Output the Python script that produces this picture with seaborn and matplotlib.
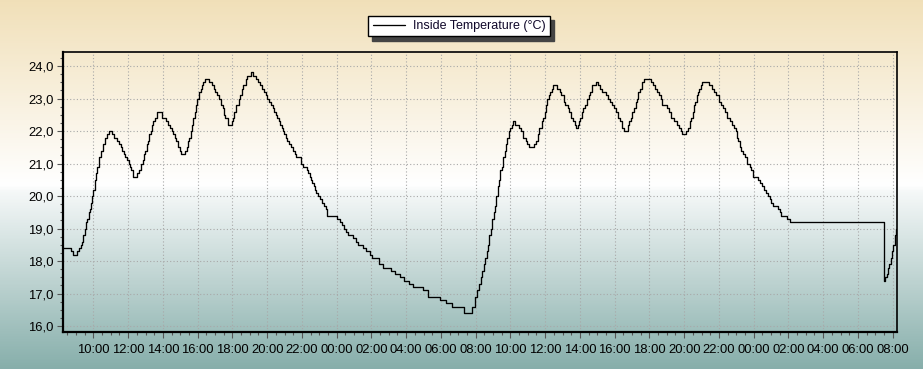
import numpy as np
import pandas as pd
import matplotlib
matplotlib.use("Agg")
import matplotlib.pyplot as plt
from matplotlib.colors import LinearSegmentedColormap
from matplotlib.ticker import FixedLocator, MultipleLocator, FuncFormatter
import seaborn as sns

# hours since midnight of day 1 at which the reading changes
hours = [8.25, 8.70, 8.85, 9.08, 9.19, 9.27, 9.35, 9.42, 9.50, 9.58, 9.65, 9.73, 9.81, 9.88, 9.94,
         10.00, 10.08, 10.15, 10.23, 10.35, 10.46, 10.58, 10.69, 10.81, 10.92, 11.07, 11.20, 11.38,
         11.50, 11.57, 11.65, 11.76, 11.84, 11.92, 12.03, 12.11, 12.19, 12.26, 12.53, 12.65, 12.76,
         12.84, 12.92, 12.99, 13.07, 13.15, 13.22, 13.30, 13.38, 13.45, 13.53, 13.64, 13.95, 14.18,
         14.30, 14.41, 14.53, 14.60, 14.68, 14.76, 14.87, 14.99, 15.06, 15.29, 15.37, 15.45, 15.52,
         15.60, 15.68, 15.75, 15.83, 15.91, 15.99, 16.10, 16.18, 16.25, 16.33, 16.41, 16.68, 16.83,
         16.94, 17.02, 17.14, 17.21, 17.33, 17.44, 17.52, 17.60, 17.75, 18.00, 18.06, 18.12, 18.23,
         18.38, 18.46, 18.54, 18.61, 18.77, 18.84, 19.07, 19.19, 19.34, 19.50, 19.61, 19.73, 19.84,
         19.92, 20.00, 20.11, 20.23, 20.34, 20.42, 20.49, 20.57, 20.69, 20.76, 20.84, 20.92, 20.99,
         21.07, 21.15, 21.26, 21.38, 21.49, 21.61, 21.68, 21.95, 22.07, 22.30, 22.37, 22.45, 22.53,
         22.60, 22.68, 22.76, 22.83, 22.95, 23.03, 23.14, 23.26, 23.37, 23.45, 24.02, 24.18, 24.33,
         24.45, 24.56, 24.68, 24.94, 25.10, 25.25, 25.52, 25.71, 25.90, 26.02, 26.44, 26.67, 27.15,
         27.38, 27.63, 27.88, 28.15, 28.40, 28.98, 29.27, 29.94, 30.29, 30.62, 31.35, 31.81, 31.96,
         32.10, 32.21, 32.31, 32.38, 32.46, 32.54, 32.63, 32.71, 32.79, 32.87, 32.96, 33.04, 33.12,
         33.19, 33.27, 33.35, 33.42, 33.50, 33.60, 33.67, 33.75, 33.83, 33.90, 33.98, 34.08, 34.17,
         34.27, 34.52, 34.63, 34.75, 34.87, 34.98, 35.06, 35.37, 35.48, 35.60, 35.67, 35.79, 35.90,
         35.98, 36.06, 36.13, 36.21, 36.29, 36.37, 36.44, 36.71, 36.83, 36.94, 37.06, 37.17, 37.29,
         37.40, 37.48, 37.60, 37.71, 37.79, 37.87, 37.94, 38.02, 38.10, 38.17, 38.29, 38.40, 38.52,
         38.60, 38.71, 38.90, 39.02, 39.13, 39.25, 39.48, 39.60, 39.71, 39.87, 39.98, 40.10, 40.21,
         40.33, 40.44, 40.52, 40.75, 40.83, 40.94, 41.02, 41.10, 41.21, 41.29, 41.37, 41.44, 41.56,
         41.67, 42.12, 42.23, 42.35, 42.46, 42.54, 42.65, 42.73, 43.00, 43.15, 43.27, 43.42, 43.58,
         43.69, 43.81, 43.88, 44.12, 44.23, 44.35, 44.42, 44.50, 44.58, 44.65, 44.73, 44.81, 44.88,
         44.96, 45.04, 45.42, 45.58, 45.69, 45.81, 46.00, 46.12, 46.23, 46.35, 46.46, 46.62, 46.73,
         46.85, 46.96, 47.04, 47.12, 47.19, 47.27, 47.38, 47.50, 47.62, 47.77, 47.85, 47.96, 48.23,
         48.35, 48.46, 48.58, 48.69, 48.81, 48.92, 49.00, 49.12, 49.38, 49.50, 49.58, 49.92, 50.08,
         55.50, 55.58, 55.65, 55.73, 55.81, 55.88, 55.96, 56.04, 56.12, 56.19, 56.25]

temps = [18.4, 18.3, 18.2, 18.3, 18.4, 18.5, 18.6, 18.8, 19.0, 19.2, 19.3, 19.5, 19.6, 19.8, 20.0,
         20.2, 20.5, 20.7, 20.9, 21.2, 21.4, 21.6, 21.8, 21.9, 22.0, 21.9, 21.8, 21.7,
         21.6, 21.5, 21.4, 21.3, 21.2, 21.1, 21.0, 20.9, 20.8, 20.6, 20.7, 20.8, 21.0,
         21.1, 21.3, 21.4, 21.6, 21.7, 21.9, 22.0, 22.2, 22.3, 22.4, 22.6, 22.4, 22.3,
         22.2, 22.1, 22.0, 21.9, 21.8, 21.7, 21.5, 21.4, 21.3, 21.4, 21.5, 21.7, 21.8,
         22.0, 22.2, 22.4, 22.6, 22.8, 23.0, 23.2, 23.3, 23.4, 23.5, 23.6, 23.5, 23.4,
         23.3, 23.2, 23.1, 23.0, 22.8, 22.7, 22.5, 22.4, 22.2, 22.3, 22.4, 22.6, 22.8,
         23.0, 23.1, 23.3, 23.4, 23.6, 23.7, 23.8, 23.7, 23.6, 23.5, 23.4, 23.3, 23.2,
         23.1, 23.0, 22.9, 22.8, 22.7, 22.6, 22.5, 22.4, 22.3, 22.2, 22.1, 22.0, 21.9,
         21.8, 21.7, 21.6, 21.5, 21.4, 21.3, 21.2, 21.0, 20.9, 20.8, 20.7, 20.6, 20.5,
         20.4, 20.3, 20.2, 20.1, 20.0, 19.9, 19.8, 19.7, 19.6, 19.4, 19.3, 19.2, 19.1,
         19.0, 18.9, 18.8, 18.7, 18.6, 18.5, 18.4, 18.3, 18.2, 18.1, 17.9, 17.8, 17.7,
         17.6, 17.5, 17.4, 17.3, 17.2, 17.1, 16.9, 16.8, 16.7, 16.6, 16.4, 16.6, 16.9,
         17.1, 17.3, 17.5, 17.7, 17.9, 18.1, 18.3, 18.5, 18.8, 19.0, 19.3, 19.5, 19.7,
         20.0, 20.3, 20.5, 20.8, 20.9, 21.2, 21.4, 21.6, 21.8, 22.0, 22.1, 22.2, 22.3,
         22.2, 22.1, 22.0, 21.8, 21.7, 21.6, 21.5, 21.6, 21.7, 21.9, 22.1, 22.3, 22.4,
         22.6, 22.8, 23.0, 23.1, 23.2, 23.3, 23.4, 23.3, 23.2, 23.1, 22.9, 22.8, 22.7,
         22.6, 22.4, 22.3, 22.2, 22.1, 22.2, 22.3, 22.4, 22.6, 22.7, 22.8, 23.0, 23.1,
         23.2, 23.4, 23.5, 23.4, 23.3, 23.2, 23.1, 23.0, 22.9, 22.8, 22.7, 22.6, 22.4,
         22.3, 22.1, 22.0, 22.2, 22.3, 22.4, 22.6, 22.7, 22.9, 23.0, 23.2, 23.3, 23.5,
         23.6, 23.5, 23.4, 23.3, 23.2, 23.1, 23.0, 22.8, 22.7, 22.6, 22.4, 22.3, 22.2,
         22.1, 22.0, 21.9, 22.0, 22.1, 22.3, 22.4, 22.6, 22.8, 22.9, 23.1, 23.2, 23.3,
         23.4, 23.5, 23.4, 23.3, 23.2, 23.1, 22.9, 22.8, 22.7, 22.6, 22.4, 22.3, 22.2,
         22.1, 22.0, 21.8, 21.7, 21.5, 21.4, 21.3, 21.2, 21.0, 20.9, 20.8, 20.6, 20.5,
         20.4, 20.3, 20.2, 20.1, 20.0, 19.9, 19.8, 19.7, 19.6, 19.5, 19.4, 19.3, 19.2,
         17.4, 17.5, 17.6, 17.8, 17.9, 18.1, 18.3, 18.5, 18.8, 19.0, 19.0]

tick_hours = list(range(10, 57, 2))
y_ticks = [16.0, 17.0, 18.0, 19.0, 20.0, 21.0, 22.0, 23.0, 24.0]
series_label = "Inside Temperature (°C)"

df = pd.DataFrame({"hour": hours, "temp": temps})

sns.set_style("white")
plt.rcParams["font.family"] = ["Liberation Sans", "DejaVu Sans"]

W, H = 923, 369
fig = plt.figure(figsize=(W / 100, H / 100), dpi=100)

# background gradient
bg = fig.add_axes([0, 0, 1, 1], zorder=-10)
cmap = LinearSegmentedColormap.from_list(
    "bg", [(0.0, (0.945, 0.878, 0.725)), (0.50, (1.0, 1.0, 1.0)),
           (0.52, (0.960, 0.972, 0.972)), (1.0, (0.530, 0.686, 0.671))])
grad = np.linspace(0, 1, 400).reshape(-1, 1)
bg.imshow(grad, aspect="auto", cmap=cmap, extent=[0, 1, 0, 1], origin="upper")
bg.set_axis_off()

ax = fig.add_axes([63 / W, 37 / H, (897 - 63) / W, (332 - 52) / H])
ax.set_facecolor("none")

sns.lineplot(data=df, x="hour", y="temp", ax=ax, color="black", linewidth=0.95,
             drawstyle="steps-post", label=series_label, estimator=None, sort=False)

ax.set_xlim(8.25, 56.25)
ax.set_ylim(15.82, 24.43)
ax.xaxis.set_major_locator(FixedLocator(tick_hours))
ax.xaxis.set_minor_locator(MultipleLocator(0.5))
ax.xaxis.set_major_formatter(FuncFormatter(lambda v, p: f"{int(round(v)) % 24:02d}:00"))
ax.yaxis.set_major_locator(FixedLocator(y_ticks))
ax.yaxis.set_minor_locator(MultipleLocator(0.25))
ax.yaxis.set_major_formatter(FuncFormatter(lambda v, p: f"{v:.1f}".replace(".", ",")))
ax.set_xlabel("")
ax.set_ylabel("")

ax.grid(True, which="major", color="#a8a8a8", linestyle=(0, (1, 2)), linewidth=0.8)
ax.tick_params(axis="both", which="major", direction="out", length=4, width=0.8,
               color="#555555", labelsize=9.4, labelcolor="black", pad=3)
ax.tick_params(axis="both", which="minor", direction="out", length=2.5, width=0.8,
               color="#555555")
ax.tick_params(axis="x", which="major", pad=4.5)
ax.tick_params(axis="both", which="both", bottom=True, left=True)

for side in ["left", "bottom"]:
    ax.spines[side].set_linewidth(1.6)
for side in ["top", "right"]:
    ax.spines[side].set_linewidth(1.2)
for s in ax.spines.values():
    s.set_color("black")

leg = ax.legend(loc="center", bbox_to_anchor=(459 / W, 1 - 26 / H), bbox_transform=fig.transFigure,
                frameon=True, fancybox=False, shadow={"color": "#444444", "alpha": 1.0, "ox": 3, "oy": -3},
                fontsize=9, handlelength=2.6, borderpad=0.35, handletextpad=0.6,
                borderaxespad=0)
leg.get_frame().set_edgecolor("black")
leg.get_frame().set_linewidth(1.0)
leg.get_frame().set_facecolor("white")
for t in leg.get_texts():
    t.set_color("#10082a")

fig.savefig("out.png", dpi=100)
